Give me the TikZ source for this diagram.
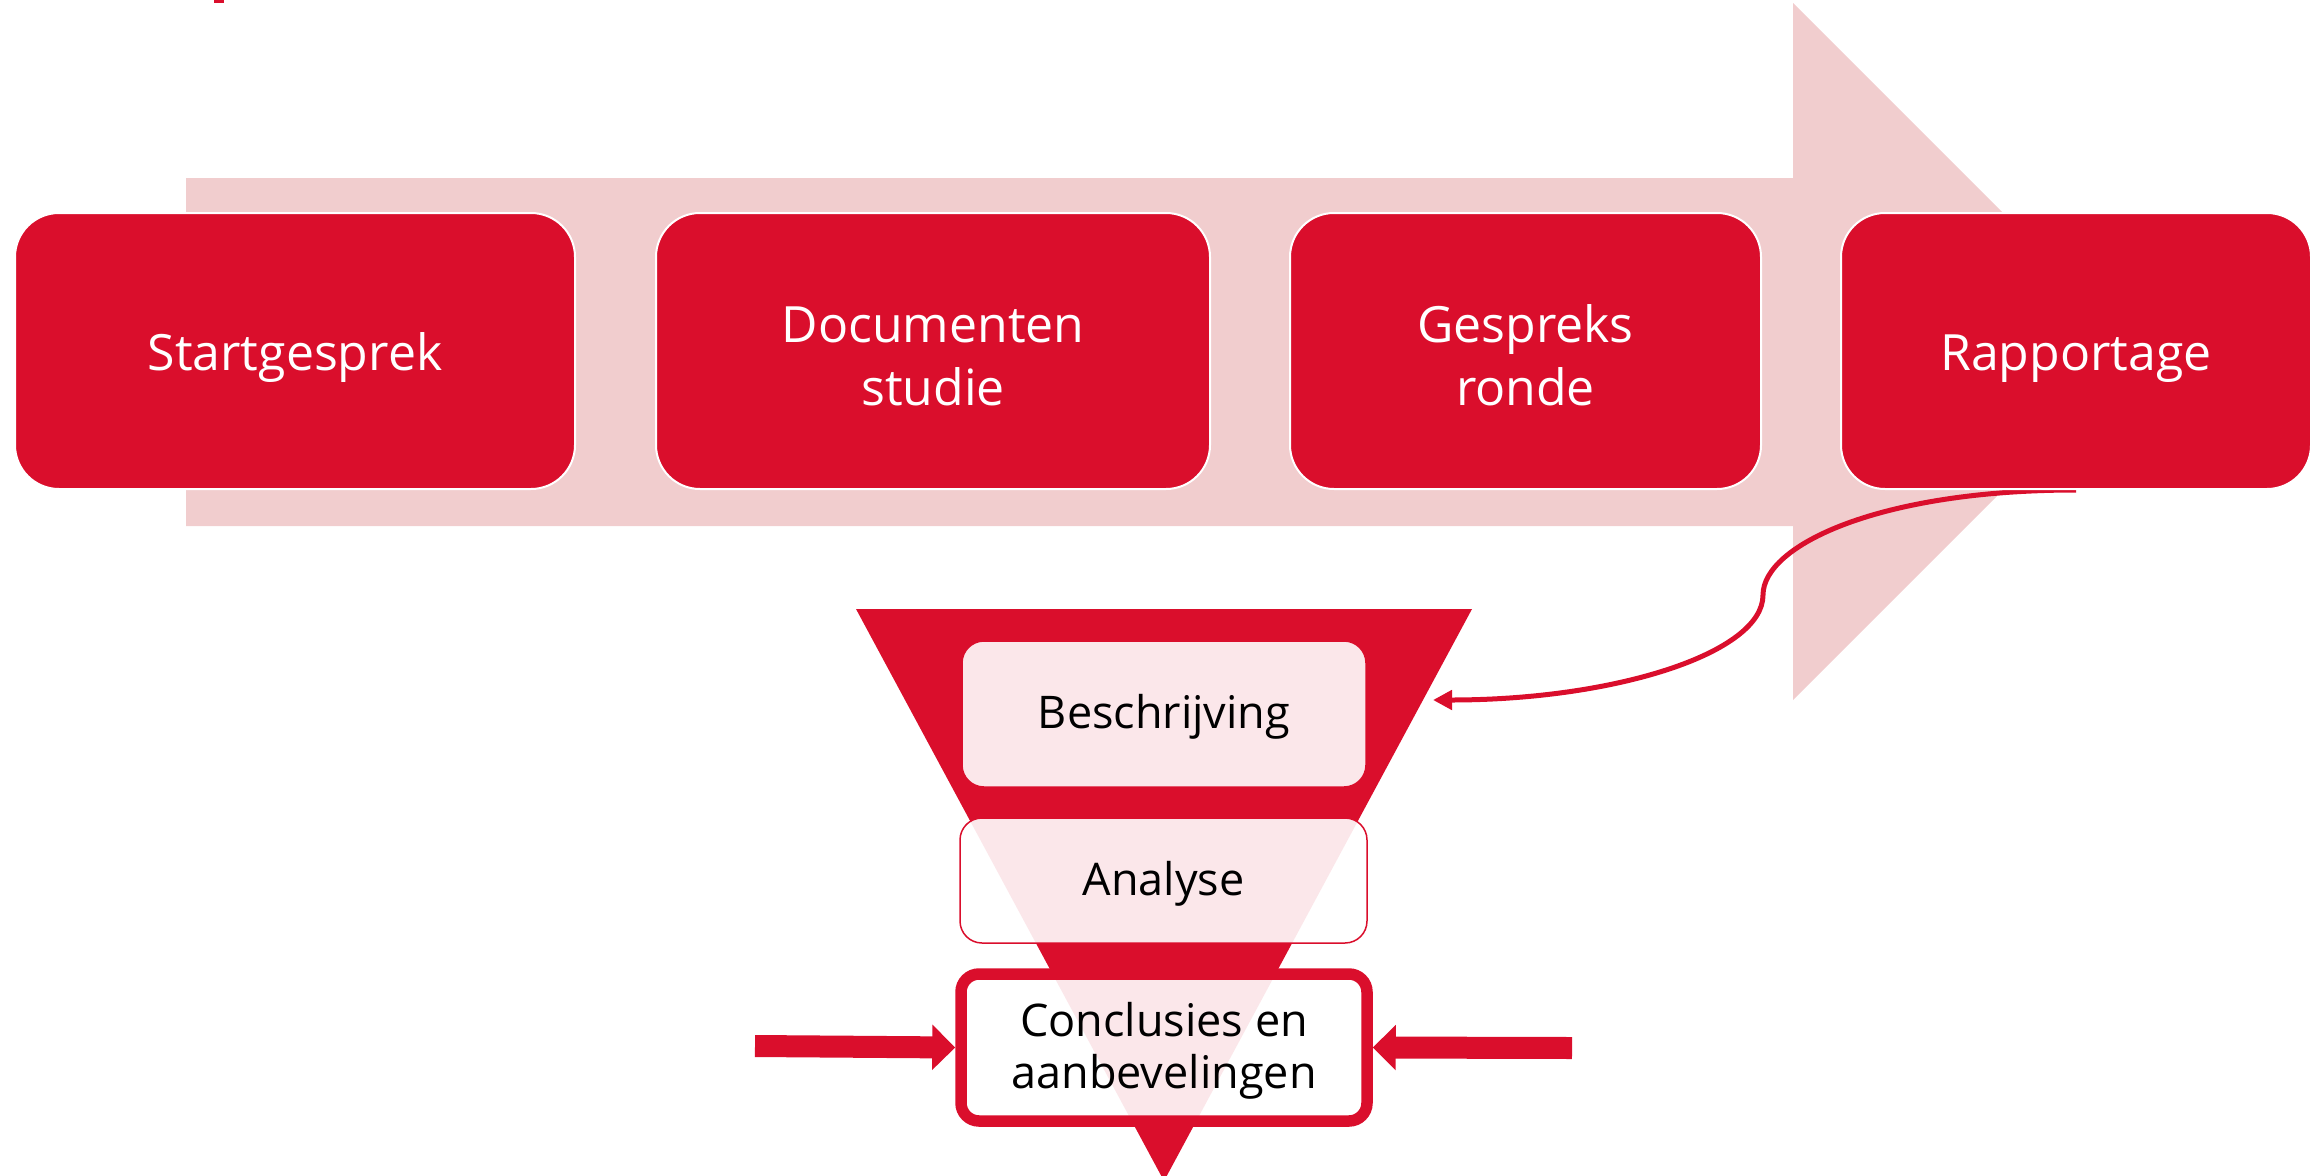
\documentclass[tikz,border=0pt]{standalone}
\usepackage{fontspec}
\setmainfont{Open Sans}
\usetikzlibrary{arrows.meta,backgrounds}
\definecolor{myred}{RGB}{218,14,44}
\definecolor{shaftpink}{RGB}{241,205,206}
\newcommand{\tallstrut}[1]{\rule{0pt}{#1}}
\begin{document}
\begin{tikzpicture}[x=1pt,y=-1pt,
  topbox/.style={draw=white, line width=2pt, fill=myred, rounded corners=44pt,
    text=white, font=\fontsize{50}{63}\selectfont, align=center, inner sep=0pt,
    minimum height=276pt},
  fbox/.style={draw=myred, line width=1.5pt, fill=white, fill opacity=0.9, text opacity=1,
    rounded corners=22pt, inner sep=0pt, font=\fontsize{45}{52}\selectfont,
    align=center, text=black},
  blockarrow/.style={myred, line width=22pt, -{Triangle[length=23pt,width=44pt]}}
]
\useasboundingbox (0,0) rectangle (2323,1175);
\fill[myred] (214,0) rectangle (224,3);

% top process boxes
\node[topbox, minimum width=560pt] (start) at (295,351) {\tallstrut{52pt}Startgesprek};
\node[topbox, minimum width=554pt] (doc) at (933,351) {\tallstrut{47pt}Documenten\\studie};
\node[topbox, minimum width=471pt] (gesp) at (1525.5,351) {\tallstrut{47pt}Gespreks\\ronde};
\node[topbox, minimum width=470pt] (rap) at (2076,351) {\tallstrut{52pt}Rapportage};
\coordinate (tip) at (1433,700);

\begin{scope}[on background layer]
  \fill[shaftpink] (186,178) -- (1793,178) -- (1793,3) -- (2141.5,351.5)
     -- (1793,700) -- (1793,526) -- (186,526) -- cycle;
  \draw[myred, line width=5pt, -{Triangle[length=19pt,width=19pt]}]
     (rap.south) .. controls (1880,490) and (1763,545) .. (1763,595)
     .. controls (1763,653) and (1615,700) .. (tip);
\end{scope}

% funnel
\fill[myred] (856,609) -- (1472,609) -- (1164,1181) -- cycle;
\node[fbox, minimum width=404pt, minimum height=146pt] (besch) at (1164,714) {\tallstrut{40pt}Beschrijving};
\node[fbox, minimum width=407pt, minimum height=125pt] (anal) at (1163.5,880.5) {\tallstrut{40pt}Analyse};
\node[fbox, line width=11.5pt, rounded corners=18pt, minimum width=406pt, minimum height=147pt]
  (concl) at (1164,1047.5) {\tallstrut{40pt}Conclusies en\\aanbevelingen};

\coordinate (la) at (755,1046);
\coordinate (ra) at (1572,1048);
\draw[blockarrow] (la) -- (concl.west);
\draw[blockarrow] (ra) -- (concl.east);
\end{tikzpicture}
\end{document}
